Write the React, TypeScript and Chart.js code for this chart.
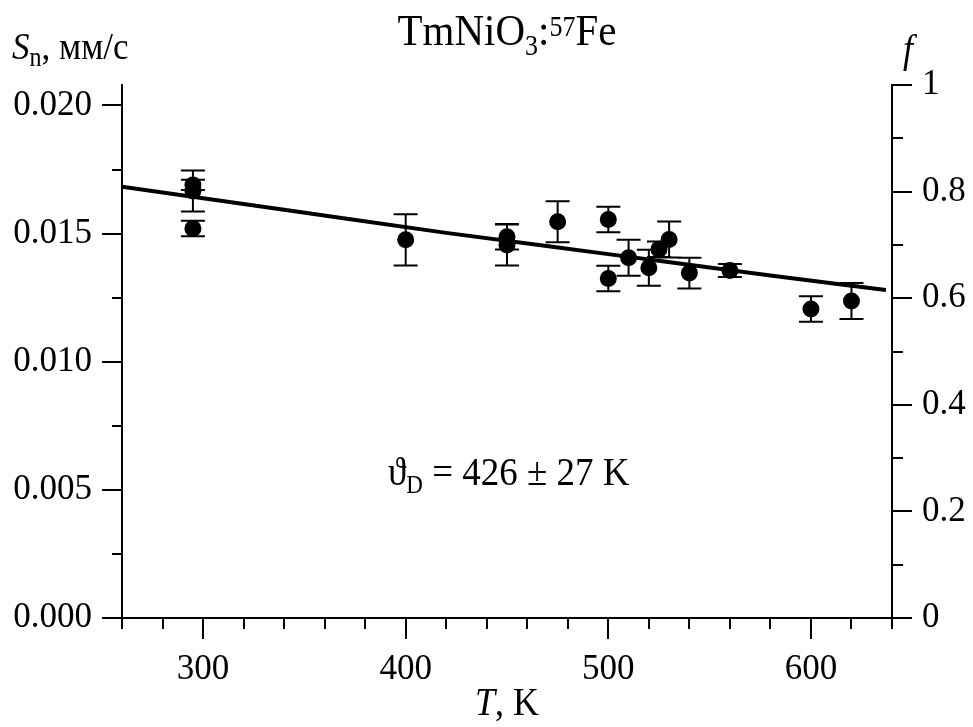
import { useEffect, useRef } from "react";
import { Chart, registerables } from "chart.js";

Chart.register(...registerables);

// Measured data: temperature (K), centre shift Sn (mm/s) and its error
const temperatures = [295, 295, 295, 400, 450, 450, 475, 500, 500, 510, 520, 525, 530, 540, 560, 600, 620];
const shiftValues = [0.0169, 0.01666, 0.0152, 0.01476, 0.01488, 0.01456, 0.01546, 0.01555, 0.01325, 0.01406, 0.01367, 0.01439, 0.01477, 0.01346, 0.01356, 0.01206, 0.01237];
const shiftErrors = [0.0002, 0.0008, 0.0003, 0.001, 0.0005, 0.0008, 0.0008, 0.0005, 0.0005, 0.0007, 0.0007, 0.0003, 0.0007, 0.0006, 0.00025, 0.0005, 0.0007];

// Debye-model fit curve
const fitTemperatures = [260, 340, 420, 500, 580, 637];
const fitValues = [0.01683, 0.01593, 0.01503, 0.0142, 0.01337, 0.0128];

// Axis ranges
const xRange = [260, 640];
const yRange = [0, 0.0208];
const fRange = [0, 1];

const FONT = '"Liberation Serif", "Times New Roman", "DejaVu Serif", serif';

type Run = { t: string; s: number; it?: boolean; dy?: number };

function drawRuns(ctx: CanvasRenderingContext2D, x: number, baseline: number, runs: Run[], align: "left" | "center", stretch = 1.1) {
  ctx.save();
  ctx.textBaseline = "alphabetic";
  ctx.textAlign = "left";
  ctx.fillStyle = "#000";
  let total = 0;
  const widths = runs.map((r) => {
    ctx.font = `${r.it ? "italic " : ""}${r.s}px ${FONT}`;
    const w = ctx.measureText(r.t).width;
    total += w;
    return w;
  });
  let cx = align === "center" ? x - total / 2 : x;
  ctx.translate(0, baseline);
  ctx.scale(1, stretch);
  runs.forEach((r, i) => {
    ctx.font = `${r.it ? "italic " : ""}${r.s}px ${FONT}`;
    ctx.fillText(r.t, cx, (r.dy || 0) / stretch);
    cx += widths[i];
  });
  ctx.restore();
}

export default function App() {
  const ref = useRef<HTMLCanvasElement>(null);

  useEffect(() => {
    document.body.style.margin = "0";
    const canvas = ref.current!;

    const errorBars = {
      id: "errorBars",
      beforeDatasetsDraw(chart: any) {
        const { ctx, scales } = chart;
        const x = scales.x;
        const y = scales.y;
        ctx.save();
        ctx.strokeStyle = "#000";
        ctx.lineWidth = 2;
        ctx.beginPath();
        temperatures.forEach((t, i) => {
          const px = x.getPixelForValue(t);
          const top = y.getPixelForValue(shiftValues[i] + shiftErrors[i]);
          const bot = y.getPixelForValue(shiftValues[i] - shiftErrors[i]);
          ctx.moveTo(px, top);
          ctx.lineTo(px, bot);
          ctx.moveTo(px - 12, top);
          ctx.lineTo(px + 12, top);
          ctx.moveTo(px - 12, bot);
          ctx.lineTo(px + 12, bot);
        });
        ctx.stroke();
        ctx.restore();
      },
    };

    const decorations = {
      id: "decorations",
      afterDraw(chart: any) {
        const { ctx, scales, chartArea } = chart;
        const x = scales.x;
        const y = scales.y;
        const f = scales.f;
        ctx.save();
        ctx.strokeStyle = "#000";
        ctx.lineWidth = 2;
        ctx.beginPath();
        x.ticks.forEach((tk: any) => {
          const px = Math.round(x.getPixelForValue(tk.value));
          const major = Math.abs(tk.value / 100 - Math.round(tk.value / 100)) < 1e-6;
          ctx.moveTo(px, chartArea.bottom);
          ctx.lineTo(px, chartArea.bottom + (major ? 21 : 11));
        });
        y.ticks.forEach((tk: any) => {
          const py = Math.round(y.getPixelForValue(tk.value));
          const major = Math.abs(tk.value / 0.005 - Math.round(tk.value / 0.005)) < 1e-6;
          ctx.moveTo(chartArea.left, py);
          ctx.lineTo(chartArea.left - (major ? 20 : 10), py);
        });
        f.ticks.forEach((tk: any) => {
          const py = Math.round(f.getPixelForValue(tk.value));
          const major = Math.abs(tk.value / 0.2 - Math.round(tk.value / 0.2)) < 1e-6;
          ctx.moveTo(chartArea.right, py);
          ctx.lineTo(chartArea.right + (major ? 20 : 11), py);
        });
        ctx.stroke();
        ctx.restore();

        const cxPlot = (chartArea.left + chartArea.right) / 2;
        drawRuns(ctx, cxPlot, 45, [
          { t: "TmNiO", s: 41 },
          { t: "3", s: 26, dy: 10 },
          { t: ":", s: 41 },
          { t: "57", s: 26, dy: -9 },
          { t: "Fe", s: 41 },
        ], "center");
        drawRuns(ctx, 12, 59, [
          { t: "S", s: 35, it: true },
          { t: "n", s: 24, dy: 7 },
          { t: ", мм/с", s: 35 },
        ], "left");
        drawRuns(ctx, 903, 62, [{ t: "f", s: 36, it: true }], "left");
        drawRuns(ctx, cxPlot, 715, [
          { t: "T", s: 36, it: true },
          { t: ", K", s: 36 },
        ], "center");
        drawRuns(ctx, 388, 485, [
          { t: "ϑ", s: 37 },
          { t: "D", s: 23, dy: 8 },
          { t: " = 426 ± 27 K", s: 37 },
        ], "left");
      },
    };

    const tickFont = { family: FONT, size: 35 };

    const chart = new Chart(canvas, {
      type: "scatter",
      data: {
        datasets: [
          {
            label: "Sn",
            data: temperatures.map((t, i) => ({ x: t, y: shiftValues[i] })),
            backgroundColor: "#000",
            borderColor: "#000",
            borderWidth: 0,
            pointRadius: 8.5,
            pointHoverRadius: 8.5,
            showLine: false,
            order: 1,
            yAxisID: "y",
          },
          {
            label: "fit",
            data: fitTemperatures.map((t, i) => ({ x: t, y: fitValues[i] })),
            borderColor: "#000",
            backgroundColor: "#000",
            borderWidth: 4,
            pointRadius: 0,
            showLine: true,
            cubicInterpolationMode: "monotone",
            order: 2,
            yAxisID: "y",
          },
        ],
      },
      options: {
        animation: false,
        responsive: false,
        maintainAspectRatio: false,
        layout: { padding: { top: 85, left: 0, right: 0, bottom: 0 } },
        plugins: { legend: { display: false }, tooltip: { enabled: false }, title: { display: false } },
        scales: {
          x: {
            type: "linear",
            position: "bottom",
            min: xRange[0],
            max: xRange[1],
            grid: { display: false, drawTicks: false },
            border: { display: true, color: "#000", width: 2 },
            ticks: {
              stepSize: 20,
              autoSkip: false,
              maxRotation: 0,
              includeBounds: false,
              color: "#000",
              font: tickFont,
              padding: 31,
              callback: (v: any) => (Math.abs(v / 100 - Math.round(v / 100)) < 1e-6 ? String(Math.round(v)) : ""),
            },
            afterFit: (s: any) => {
              s.height = 109;
            },
          },
          y: {
            type: "linear",
            position: "left",
            min: yRange[0],
            max: yRange[1],
            grid: { display: false, drawTicks: false },
            border: { display: true, color: "#000", width: 2 },
            ticks: {
              stepSize: 0.0025,
              autoSkip: false,
              includeBounds: false,
              color: "#000",
              font: tickFont,
              padding: 30,
              callback: (v: any) => (Math.abs(v / 0.005 - Math.round(v / 0.005)) < 1e-6 ? Number(v).toFixed(3) : ""),
            },
            afterFit: (s: any) => {
              s.width = 122;
            },
          },
          f: {
            type: "linear",
            position: "right",
            min: fRange[0],
            max: fRange[1],
            grid: { display: false, drawTicks: false },
            border: { display: true, color: "#000", width: 2 },
            ticks: {
              stepSize: 0.1,
              autoSkip: false,
              includeBounds: false,
              color: "#000",
              font: tickFont,
              padding: 30,
              callback: (v: any) => {
                if (Math.abs(v / 0.2 - Math.round(v / 0.2)) > 1e-6) return "";
                if (Math.abs(v) < 1e-9) return "0";
                if (Math.abs(v - 1) < 1e-9) return "1";
                return Number(v).toFixed(1);
              },
            },
            afterFit: (s: any) => {
              s.width = 81;
            },
          },
        },
      } as any,
      plugins: [errorBars, decorations],
    });

    return () => chart.destroy();
  }, []);

  return (
    <div style={{ width: 973, height: 727, position: "relative", background: "#fff" }}>
      <canvas ref={ref} width={973} height={727} style={{ display: "block", width: 973, height: 727 }} />
    </div>
  );
}
